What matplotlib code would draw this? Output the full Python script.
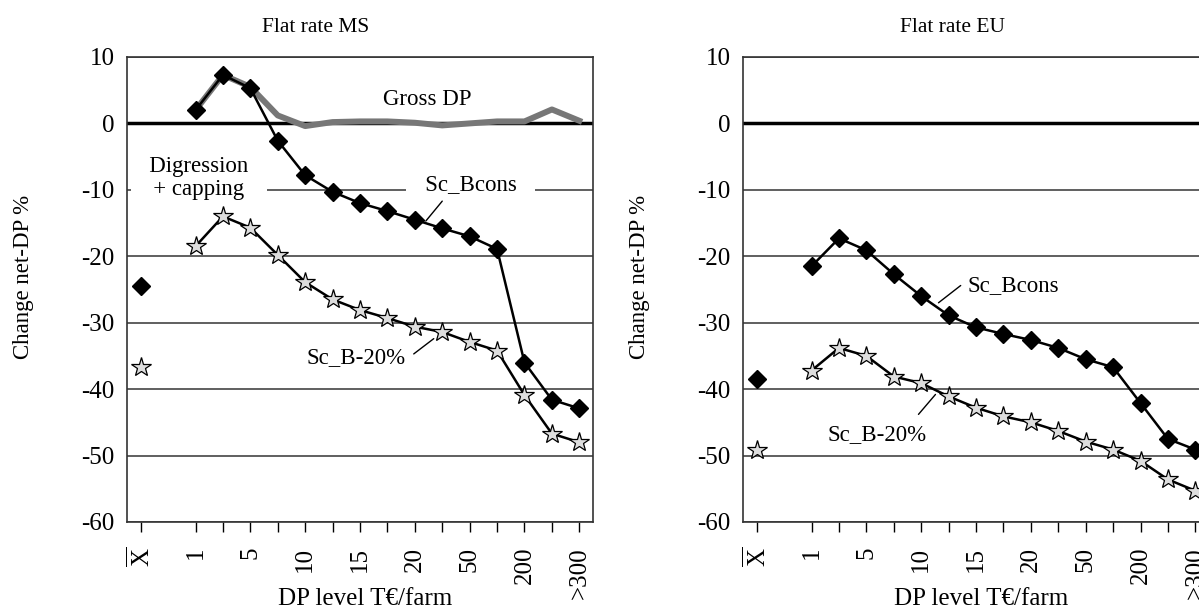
import matplotlib
matplotlib.use('Agg')
import matplotlib.pyplot as plt
import numpy as np

nan = np.nan

# category axis: X-bar, an empty slot, then the DP level classes
categories = [r'$\overline{\mathrm{X}}$', '', '1', '', '5', '', '10', '', '15', '',
              '20', '', '50', '', '200', '', '>300']
tick_slots = [0, 2, 3, 4, 5, 6, 7, 8, 9, 10, 11, 12, 13, 14, 15, 16]

# Flat rate MS
ms_gross = [nan, nan, 2.0, 7.3, 5.5, 1.2, -0.4, 0.2, 0.3, 0.3, 0.1, -0.3, 0.0, 0.3, 0.3, 2.1, 0.4]
ms_bcons = [-24.5, nan, 2.0, 7.3, 5.3, -2.6, -7.8, -10.3, -12.0, -13.2, -14.5, -15.8, -17.0, -18.9,
            -36.0, -41.6, -42.9]
ms_b20 = [-36.7, nan, -18.5, -14.0, -15.7, -19.8, -23.9, -26.5, -28.1, -29.3, -30.6, -31.4, -32.9,
          -34.2, -40.9, -46.7, -48.0]

# Flat rate EU
eu_bcons = [-38.4, nan, -21.5, -17.3, -19.1, -22.7, -26.0, -28.9, -30.7, -31.7, -32.6, -33.8, -35.5,
            -36.7, -42.1, -47.5, -49.1]
eu_b20 = [-49.1, nan, -37.2, -33.8, -35.0, -38.1, -39.1, -41.1, -42.8, -44.1, -45.0, -46.3, -47.9,
          -49.1, -50.8, -53.6, -55.3]

plt.rcParams['font.family'] = 'Liberation Serif'
plt.rcParams['font.size'] = 16.5
plt.rcParams['mathtext.fontset'] = 'custom'
plt.rcParams['mathtext.rm'] = 'Liberation Serif'
plt.rcParams['axes.unicode_minus'] = False

fig = plt.figure(figsize=(11.99, 6.16), dpi=100)
ax1 = fig.add_axes([0.1059, 0.1526, 0.3887, 0.7549])
ax2 = fig.add_axes([0.6197, 0.1526, 0.3887, 0.7549])

x = np.arange(len(categories))


def setup(ax):
    ax.set_xlim(-0.5, 16.5)
    ax.set_ylim(-60, 10)
    ax.set_yticks(range(-60, 11, 10))
    ax.yaxis.grid(True, color='#444444', lw=1.2)
    ax.set_axisbelow(True)
    ax.axhline(0, color='black', lw=2.5, zorder=1.5)
    ax.set_xticks(tick_slots)
    ax.set_xticklabels([categories[i] for i in tick_slots], rotation=90)
    ax.tick_params(axis='both', labelsize=18)
    ax.tick_params(axis='y', length=0, pad=9)
    ax.tick_params(axis='x', length=7, width=1, pad=11, direction='out')
    for s in ax.spines.values():
        s.set_color('#333333')
        s.set_linewidth(1.2)
    ax.set_ylabel('Change net-DP %', fontsize=16.5)
    ax.yaxis.set_label_coords(-0.200, 0.527)
    ax.set_xlabel('DP level T€/farm', fontsize=18)
    ax.xaxis.set_label_coords(0.51, -0.142)


def leader(ax, start, end):
    ax.annotate('', xy=end, xytext=start,
                arrowprops=dict(arrowstyle='-', color='black', lw=1, shrinkA=0, shrinkB=0))


setup(ax1)
ax1.plot(x, ms_gross, color='#777777', lw=4.3, zorder=2)
ax1.plot(x, ms_bcons, color='black', lw=1.8, marker='D', ms=9, mfc='black', mec='black', zorder=3)
ax1.plot(x, ms_b20, color='black', lw=1.8, marker='*', ms=15, mfc='#dddddd', mec='black',
         mew=0.9, zorder=3)
ax1.text(10.47, 3.6, 'Gross DP', ha='center', va='center')
ax1.text(2.13, -8.2, '   Digression   \n   + capping   ', ha='center', va='center',
         linespacing=1.1, bbox=dict(facecolor='white', edgecolor='none', pad=1), zorder=2.5)
ax1.text(12.04, -9.2, '   Sc_Bcons   ', ha='center', va='center',
         bbox=dict(facecolor='white', edgecolor='none', pad=1), zorder=2.5)
leader(ax1, (11.0, -11.7), (10.4, -14.7))
ax1.text(7.87, -35.2, 'Sc_B-20%', ha='center', va='center')
leader(ax1, (9.96, -34.7), (10.69, -32.4))

setup(ax2)
ax2.plot(x, eu_bcons, color='black', lw=1.8, marker='D', ms=9, mfc='black', mec='black', zorder=3)
ax2.plot(x, eu_b20, color='black', lw=1.8, marker='*', ms=15, mfc='#dddddd', mec='black',
         mew=0.9, zorder=3)
ax2.text(7.7, -24.4, 'Sc_Bcons', ha='left', va='center')
leader(ax2, (7.44, -24.4), (6.63, -27.0))
ax2.text(4.4, -46.8, 'Sc_B-20%', ha='center', va='center')
leader(ax2, (5.9, -43.8), (6.52, -40.8))

fig.text(316 / 1199, 0.956, 'Flat rate MS', ha='center', va='center', fontsize=15.5)
fig.text(953 / 1199, 0.956, 'Flat rate EU', ha='center', va='center', fontsize=15.5)

fig.savefig('out.png', dpi=100)
